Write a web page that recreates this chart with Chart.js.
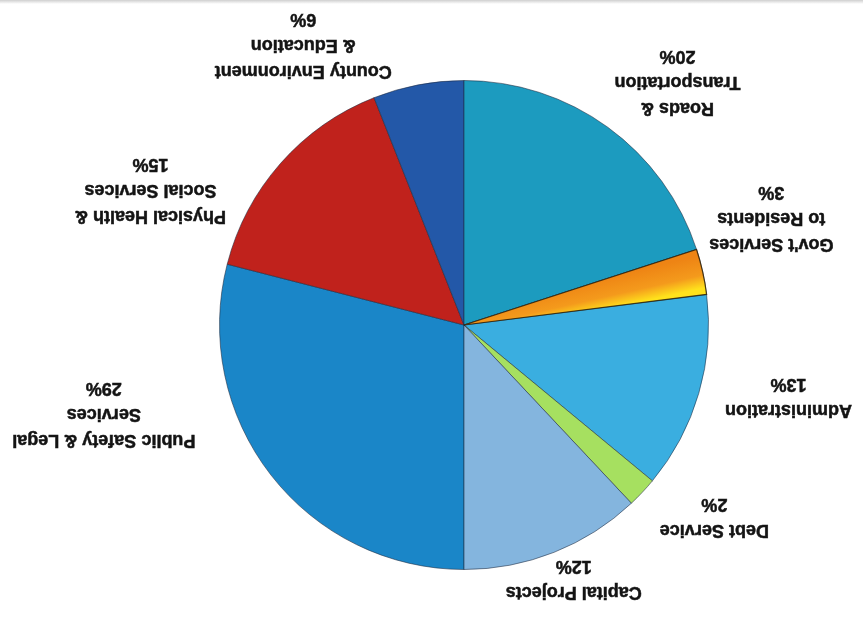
<!DOCTYPE html>
<html>
<head>
<meta charset="utf-8">
<script src="https://cdn.jsdelivr.net/npm/chart.js@4"></script>
<style>
  html, body { margin: 0; padding: 0; background: #fff; }
  #wrap { position: relative; width: 863px; height: 622px; transform: rotate(180deg); }
  #edge { position: absolute; left: 0; right: 0; bottom: 0; height: 4px;
          background: linear-gradient(to bottom, rgba(255,255,255,0), rgba(150,150,150,0.45)); }
</style>
</head>
<body>
<div id="wrap">
  <canvas id="budgetChart" width="863" height="622"></canvas>
  <div id="edge"></div>
</div>
<script>
// budget shares, clockwise from 12 o'clock
let names = [
    ["Public Safety & Legal", "Services"],
    ["Physical Health &", "Social Services"],
    ["County Environment", "& Education"],
    ["Roads &", "Transportation"],
    ["Gov't Services", "to Residents"],
    ["Administration"],
    ["Debt Service"],
    ["Capital Projects"]
];
let shares = [29, 15, 6, 20, 3, 13, 2, 12];
let colors = ["#1a86c8", "#c0221c", "#2358a8", "#1c9bbf", "#f2921a", "#3aaee0", "#a6e060", "#84b5de"];

// where each label block sits, relative to the pie centre, in radii
let labelSpots = [
    [1.473, -0.363], [1.282, 0.551], [0.657, 1.147], [-0.873, 0.992],
    [-1.257, 0.437], [-1.327, -0.294], [-1.024, -0.784], [-0.449, -1.037]
];

const sliceLabels = {
    id: "sliceLabels",
    afterDatasetsDraw(chart) {
        let ctx = chart.ctx;
        let arcs = chart.getDatasetMeta(0).data;

        // orange-to-yellow sheen on the small gov't services slice
        let g = arcs[4];
        let mid = g.outerRadius * 0.7;
        let grad = ctx.createLinearGradient(
            g.x + mid * Math.cos(g.startAngle), g.y + mid * Math.sin(g.startAngle),
            g.x + mid * Math.cos(g.endAngle), g.y + mid * Math.sin(g.endAngle));
        grad.addColorStop(0, "#ee8414");
        grad.addColorStop(0.6, "#f49a1c");
        grad.addColorStop(1, "#ffe21c");
        ctx.save();
        ctx.beginPath();
        ctx.moveTo(g.x, g.y);
        ctx.arc(g.x, g.y, g.outerRadius, g.startAngle, g.endAngle);
        ctx.closePath();
        ctx.fillStyle = grad;
        ctx.fill();
        ctx.strokeStyle = "rgba(40,30,10,0.8)";
        ctx.lineWidth = 1.2;
        ctx.stroke();
        ctx.restore();

        ctx.save();
        ctx.font = "bold 18px 'Liberation Sans', Arial, sans-serif";
        ctx.fillStyle = "#141414";
        ctx.strokeStyle = "#141414";
        ctx.lineWidth = 0.5;
        ctx.textAlign = "center";
        ctx.textBaseline = "middle";
        arcs.forEach((arc, i) => {
            let lines = names[i].concat([shares[i] + "%"]);
            let lh = 26;
            let cx = arc.x + labelSpots[i][0] * arc.outerRadius;
            let cy = arc.y + labelSpots[i][1] * arc.outerRadius;
            let top = cy - (lines.length - 1) * lh / 2;
            lines.forEach((t, j) => {
                ctx.fillText(t, cx, top + j * lh);
                ctx.strokeText(t, cx, top + j * lh);
            });
        });
        ctx.restore();
    }
};

new Chart(document.getElementById("budgetChart"), {
    type: "pie",
    data: {
        labels: names.map(n => n.join(" ")),
        datasets: [{
            data: shares,
            backgroundColor: colors,
            borderColor: "rgba(30,40,60,0.55)",
            borderWidth: 1
        }]
    },
    options: {
        responsive: false,
        animation: false,
        layout: { padding: { top: 52, bottom: 80, left: 154, right: 219 } },
        plugins: {
            legend: { display: false },
            tooltip: { enabled: false }
        }
    },
    plugins: [sliceLabels]
});
</script>
</body>
</html>
